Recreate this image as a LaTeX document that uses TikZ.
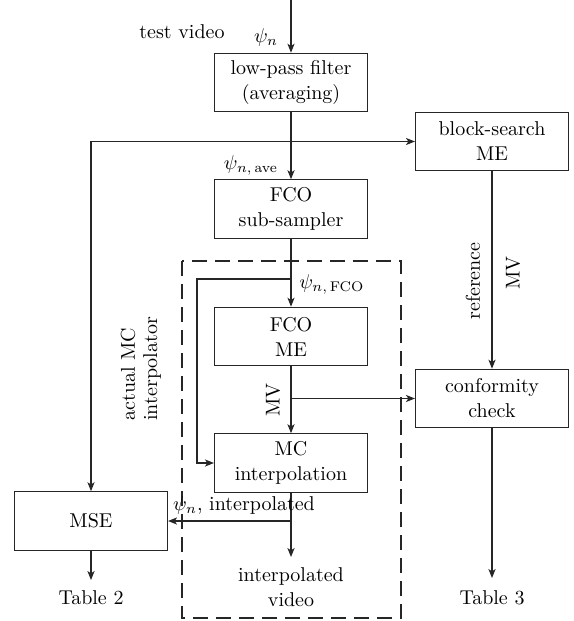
\documentclass[tikz,border=0pt]{standalone}
\usetikzlibrary{arrows.meta}
\begin{document}
\begin{tikzpicture}[x=0.5pt,y=-0.5pt,
  every node/.style={font=\fontsize{10}{12.5}\selectfont, text=black},
  box/.style={draw=black!85, line width=0.6pt, minimum width=76.5pt, minimum height=29.25pt, align=center, inner sep=1pt},
  arr/.style={draw=black!85, line width=0.6pt, -{Stealth[length=4.5pt,width=3.6pt,inset=1.2pt]}},
  lbl/.style={inner sep=0pt, align=center}]
\useasboundingbox (0,0) rectangle (573,621);
% boxes
\node[box] (lpf) at (291,82.5) {low-pass filter\\(averaging)};
\node[box] (fcos) at (291,209) {FCO\\sub-sampler};
\node[box] (fcome) at (291,336.5) {FCO\\ME};
\node[box] (mci) at (291,463) {MC\\interpolation};
\node[box] (bs) at (492,141.5) {block-search\\ME};
\node[box] (cc) at (492,398.5) {conformity\\check};
\node[box] (mse) at (91,521) {MSE};
% dashed region
\draw[draw=black!85, line width=1pt, dash pattern=on 7.5pt off 4pt] (182,261) rectangle (401,618);
% coordinates
\coordinate (top) at (291,0);
\coordinate (j1) at (291,141.5);
\coordinate (c1) at (91,141.5);
\coordinate (j2) at (291,279);
\coordinate (c2) at (197,279);
\coordinate (j3) at (291,398.5);
\coordinate (j4) at (291,521);
\coordinate (ivend) at (291,557);
\coordinate (t3end) at (492,578);
\coordinate (t2end) at (91,580);
% connectors
\draw[arr] (top) -- (lpf.north);
\draw[arr] (lpf.south) -- (fcos.north);
\draw[arr] (j1) -- (bs.west);
\draw[arr] (j1) -- (c1) -- (mse.north);
\draw[arr] (fcos.south) -- (fcome.north);
\draw[arr] (j2) -- (c2) |- (mci.west);
\draw[arr] (fcome.south) -- (mci.north);
\draw[arr] (j3) -- (cc.west);
\draw[arr] (mci.south) -- (ivend);
\draw[arr] (j4) -- (mse.east);
\draw[arr] (bs.south) -- (cc.north);
\draw[arr] (cc.south) -- (t3end);
\draw[arr] (mse.south) -- (t2end);
% labels
\node[lbl] (tv) at (182,32) {test video};
\node[lbl] (psin) at (266,37) {$\psi_{n}$};
\node[lbl] (psiave) at (251,165) {$\psi_{n,\,\mathrm{ave}}$};
\node[lbl, anchor=west] (psifco) at (299,284) {$\psi_{n,\,\mathrm{FCO}}$};
\node[lbl] (psiint) at (244,505) {$\psi_{n}$, interpolated};
\node[lbl] (iv) at (291,587) {interpolated\\video};
\node[lbl] (t2) at (91,598) {Table 2};
\node[lbl] (t3) at (492,598) {Table 3};
\node[lbl, rotate=90] (mv1) at (273,400) {MV};
\node[lbl, rotate=90] (ref) at (473,281) {reference};
\node[lbl, rotate=90] (mv2) at (513,273) {MV};
\node[lbl, rotate=90, anchor=west] (act1) at (128,421) {actual MC};
\node[lbl, rotate=90, anchor=west] (act2) at (152,421) {interpolator};
\end{tikzpicture}
\end{document}
